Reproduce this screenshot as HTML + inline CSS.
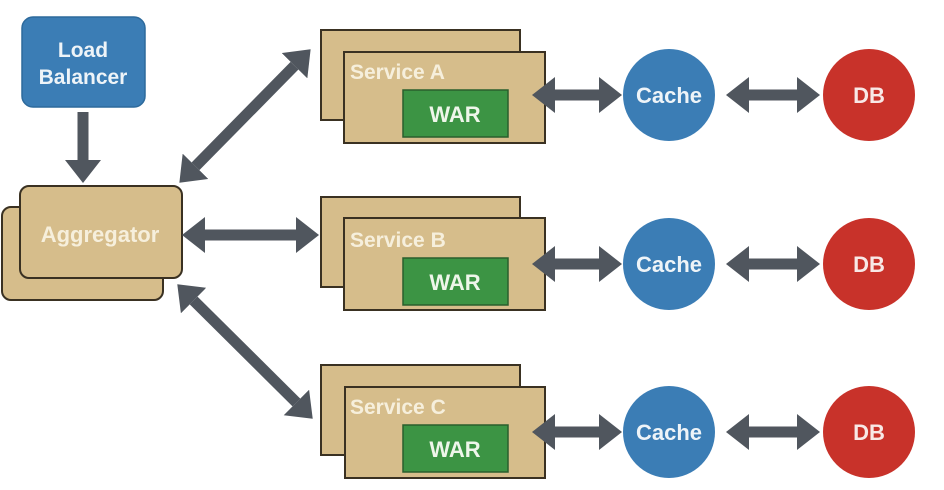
<!DOCTYPE html>
<html><head><meta charset="utf-8"><style>
html,body{margin:0;padding:0;background:#fff;width:944px;height:490px;overflow:hidden}
svg{display:block}
text{font-family:"Liberation Sans",Arial,sans-serif;font-weight:bold}
</style></head><body>
<svg width="944" height="490" viewBox="0 0 944 490" xmlns="http://www.w3.org/2000/svg">
<defs>
<marker id="h" markerUnits="userSpaceOnUse" markerWidth="24" markerHeight="36" refX="0" refY="18" orient="auto-start-reverse">
<path d="M0,0 L23,18 L0,36 z" fill="#50565e"/>
</marker>
</defs>
<rect x="22" y="17" width="123" height="90" rx="11" fill="#3b7db5" stroke="#2d6a9c" stroke-width="1.5"/>
<text x="83" y="57" font-size="21" fill="#eef4f8" text-anchor="middle">Load</text>
<text x="83" y="84" font-size="21" fill="#eef4f8" text-anchor="middle">Balancer</text>
<line x1="83" y1="112" x2="83" y2="160" stroke="#50565e" stroke-width="11" marker-end="url(#h)"/>
<rect x="2" y="207" width="161" height="93" rx="9" fill="#d6bd8b" stroke="#3a3122" stroke-width="2"/>
<rect x="20" y="186" width="162" height="92" rx="9" fill="#d6bd8b" stroke="#3a3122" stroke-width="2"/>
<text x="100" y="242" font-size="22" fill="#f6efdc" text-anchor="middle">Aggregator</text>
<line x1="195.5" y1="166.3" x2="294.5" y2="65.7" stroke="#50565e" stroke-width="11" marker-start="url(#h)" marker-end="url(#h)"/>
<line x1="205" y1="235" x2="296" y2="235" stroke="#50565e" stroke-width="11" marker-start="url(#h)" marker-end="url(#h)"/>
<line x1="193.6" y1="300.5" x2="296.4" y2="402.5" stroke="#50565e" stroke-width="11" marker-start="url(#h)" marker-end="url(#h)"/>

<g>
<rect x="321" y="30" width="199" height="90" fill="#d6bd8b" stroke="#3a3122" stroke-width="2"/>
<rect x="344" y="52" width="201" height="91" fill="#d6bd8b" stroke="#3a3122" stroke-width="2"/>
<text x="350" y="79" font-size="21" fill="#f6efdc">Service A</text>
<rect x="403" y="90" width="105" height="47" fill="#3c9444" stroke="#2a5e2c" stroke-width="1.5"/>
<text x="455" y="122" font-size="22" fill="#eef6ea" text-anchor="middle">WAR</text>
<line x1="555" y1="95" x2="599" y2="95" stroke="#50565e" stroke-width="11" marker-start="url(#h)" marker-end="url(#h)"/>
<circle cx="669" cy="95" r="46" fill="#3b7db5"/>
<text x="669" y="103" font-size="22" fill="#eef4f8" text-anchor="middle">Cache</text>
<line x1="749" y1="95" x2="797" y2="95" stroke="#50565e" stroke-width="11" marker-start="url(#h)" marker-end="url(#h)"/>
<circle cx="869" cy="95" r="46" fill="#c8322a"/>
<text x="869" y="103" font-size="22" fill="#f8e8e6" text-anchor="middle">DB</text>
</g>
<g transform="translate(0,168)">
<rect x="321" y="29" width="199" height="90" fill="#d6bd8b" stroke="#3a3122" stroke-width="2"/>
<rect x="344" y="50" width="201" height="92" fill="#d6bd8b" stroke="#3a3122" stroke-width="2"/>
<text x="350" y="79" font-size="21" fill="#f6efdc">Service B</text>
<rect x="403" y="90" width="105" height="47" fill="#3c9444" stroke="#2a5e2c" stroke-width="1.5"/>
<text x="455" y="122" font-size="22" fill="#eef6ea" text-anchor="middle">WAR</text>
<line x1="555" y1="96" x2="599" y2="96" stroke="#50565e" stroke-width="11" marker-start="url(#h)" marker-end="url(#h)"/>
<circle cx="669" cy="96" r="46" fill="#3b7db5"/>
<text x="669" y="104" font-size="22" fill="#eef4f8" text-anchor="middle">Cache</text>
<line x1="749" y1="96" x2="797" y2="96" stroke="#50565e" stroke-width="11" marker-start="url(#h)" marker-end="url(#h)"/>
<circle cx="869" cy="96" r="46" fill="#c8322a"/>
<text x="869" y="104" font-size="22" fill="#f8e8e6" text-anchor="middle">DB</text>
</g>
<g transform="translate(0,335)">
<rect x="321" y="30" width="199" height="90" fill="#d6bd8b" stroke="#3a3122" stroke-width="2"/>
<rect x="345" y="52" width="200" height="91" fill="#d6bd8b" stroke="#3a3122" stroke-width="2"/>
<text x="350" y="79" font-size="21" fill="#f6efdc">Service C</text>
<rect x="403" y="90" width="105" height="47" fill="#3c9444" stroke="#2a5e2c" stroke-width="1.5"/>
<text x="455" y="122" font-size="22" fill="#eef6ea" text-anchor="middle">WAR</text>
<line x1="555" y1="97" x2="599" y2="97" stroke="#50565e" stroke-width="11" marker-start="url(#h)" marker-end="url(#h)"/>
<circle cx="669" cy="97" r="46" fill="#3b7db5"/>
<text x="669" y="105" font-size="22" fill="#eef4f8" text-anchor="middle">Cache</text>
<line x1="749" y1="97" x2="797" y2="97" stroke="#50565e" stroke-width="11" marker-start="url(#h)" marker-end="url(#h)"/>
<circle cx="869" cy="97" r="46" fill="#c8322a"/>
<text x="869" y="105" font-size="22" fill="#f8e8e6" text-anchor="middle">DB</text>
</g>
</svg>
</body></html>
